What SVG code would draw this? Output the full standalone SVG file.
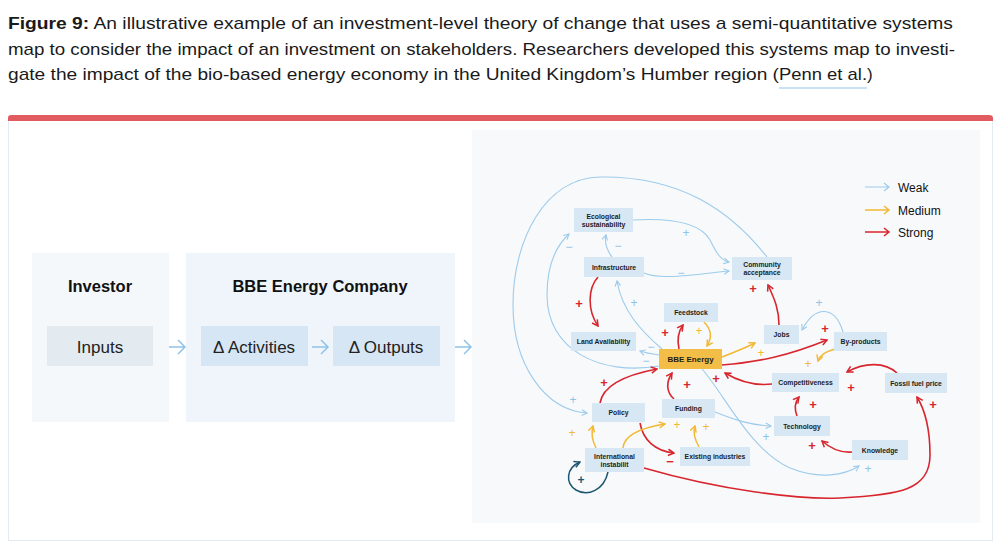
<svg xmlns="http://www.w3.org/2000/svg" width="1000" height="553" viewBox="0 0 1000 553">
<style>
.cap{font-family:"Liberation Sans",Arial,sans-serif;font-size:17px;fill:#1a1a1a}
.panelT{font-family:"Liberation Sans",Arial,sans-serif;font-size:16.5px;font-weight:700;fill:#111;text-anchor:middle}
.boxT{font-family:"Liberation Sans",Arial,sans-serif;font-size:17px;fill:#222;text-anchor:middle}
.n{fill:#d8e7f4}
.nt{font-family:"Liberation Sans",Arial,sans-serif;font-size:6.8px;font-weight:700;fill:#1c1c1c;text-anchor:middle}
.w{fill:none;stroke:#9dcbeb;stroke-width:1.1;marker-end:url(#aw)}
.m{fill:none;stroke:#f2b935;stroke-width:1.5;marker-end:url(#am)}
.s{fill:none;stroke:#d8262e;stroke-width:1.6;marker-end:url(#as)}
.t{fill:none;stroke:#1d5670;stroke-width:1.5;marker-end:url(#at)}
.lb{font-family:"Liberation Sans",Arial,sans-serif;text-anchor:middle;dominant-baseline:central}
.lw{fill:#8fc3e8;font-size:12px}
.lm{fill:#f2b935;font-size:12px}
.ls{fill:#d8262e;font-size:13px;font-weight:700}
.lt{fill:#1d5670;font-size:12px;font-weight:700}
.leg{font-family:"Liberation Sans",Arial,sans-serif;font-size:12px;fill:#111}
.flow{fill:none;stroke:#8fc3e8;stroke-width:1.5}
</style>
<defs>
<marker id="aw" markerUnits="userSpaceOnUse" viewBox="0 0 10 10" markerWidth="8" markerHeight="8" refX="8.5" refY="5" orient="auto"><path d="M2,1.5 L8.5,5 L2,8.5" fill="none" stroke="#9dcbeb" stroke-width="1.4"/></marker>
<marker id="am" markerUnits="userSpaceOnUse" viewBox="0 0 10 10" markerWidth="9" markerHeight="9" refX="8.5" refY="5" orient="auto"><path d="M2,1.5 L8.5,5 L2,8.5" fill="none" stroke="#f2b935" stroke-width="1.6"/></marker>
<marker id="as" markerUnits="userSpaceOnUse" viewBox="0 0 10 10" markerWidth="9" markerHeight="9" refX="8.5" refY="5" orient="auto"><path d="M2,1.5 L8.5,5 L2,8.5" fill="none" stroke="#d8262e" stroke-width="1.7"/></marker>
<marker id="at" markerUnits="userSpaceOnUse" viewBox="0 0 10 10" markerWidth="9" markerHeight="9" refX="8.5" refY="5" orient="auto"><path d="M2,1.5 L8.5,5 L2,8.5" fill="none" stroke="#1d5670" stroke-width="1.6"/></marker>
</defs>
<rect width="1000" height="553" fill="#ffffff"/>
<g id="caption">
<text class="cap" x="8" y="29" textLength="945" lengthAdjust="spacingAndGlyphs"><tspan font-weight="700">Figure 9:</tspan> An illustrative example of an investment-level theory of change that uses a semi-quantitative systems</text>
<text class="cap" x="8" y="55" textLength="947" lengthAdjust="spacingAndGlyphs">map to consider the impact of an investment on stakeholders. Researchers developed this systems map to investi-</text>
<text class="cap" x="8" y="80" textLength="771" lengthAdjust="spacingAndGlyphs">gate the impact of the bio-based energy economy in the United Kingdom’s Humber region (</text>
<text class="cap" x="779" y="80" textLength="88" lengthAdjust="spacingAndGlyphs">Penn et al.</text>
<text class="cap" x="867" y="80">)</text>
<line x1="779" y1="88" x2="867" y2="88" stroke="#8fc8ec" stroke-width="1.2"/>
</g>
<g id="card">
<rect x="8.5" y="118.5" width="984" height="422" fill="#ffffff" stroke="#e4ebf0"/>
<path d="M8,121 L8,118 Q8,115 11,115 L989,115 Q993,115 993,118 L993,121 Z" fill="#e05c61"/>
</g>
<g id="investor">
<rect x="32" y="253" width="137" height="169" fill="#f5f8fb"/>
<text class="panelT" x="100" y="292">Investor</text>
<rect x="47" y="326" width="106" height="40" fill="#e3ebf0"/>
<text class="boxT" x="100" y="353">Inputs</text>
</g>
<g id="company">
<rect x="186" y="253" width="269" height="169" fill="#eff5fa"/>
<text class="panelT" x="320" y="292">BBE Energy Company</text>
<rect x="201" y="326" width="107" height="40" fill="#d6e6f4"/>
<text class="boxT" x="254" y="353">Δ Activities</text>
<rect x="333" y="326" width="107" height="40" fill="#d6e6f4"/>
<text class="boxT" x="386" y="353">Δ Outputs</text>
</g>
<g id="flow-arrows">
<path class="flow" d="M169,347 H185 M178,340 L185,347 L178,354"/>
<path class="flow" d="M312,347 H328 M321,340 L328,347 L321,354"/>
<path class="flow" d="M455,347 H471 M464,340 L471,347 L464,354"/>
</g>
<rect id="map-bg" x="472" y="130" width="508" height="393" fill="#f7f9fb"/>
<g id="legend">
<path d="M865,187 H889 M884,183 L889,187 L884,191" fill="none" stroke="#9dcbeb" stroke-width="1.2"/>
<text class="leg" x="898" y="191.5">Weak</text>
<path d="M865,210 H889 M884,206 L889,210 L884,214" fill="none" stroke="#f2b935" stroke-width="1.5"/>
<text class="leg" x="898" y="214.5">Medium</text>
<path d="M865,232 H889 M884,228 L889,232 L884,236" fill="none" stroke="#d8262e" stroke-width="1.5"/>
<text class="leg" x="898" y="237">Strong</text>
</g>
<g id="connectors">
<path class="w" d="M767,257 C730,210 680,176 600,177 C545,178 513,240 513,305 C513,365 545,410 587,413"/>
<path class="w" d="M659,366 C600,376 547,350 547,295 C547,265 556,246 569,234"/>
<path class="w" d="M612,257 C607,250 604,243 606,235"/>
<path class="w" d="M633,220 C670,218 700,222 710,240 C716,252 720,260 729,262"/>
<path class="w" d="M644,273 C660,280 690,275 729,271"/>
<path class="w" d="M659,355 C652,354 646,353 640,351"/>
<path class="w" d="M662,349 C640,330 622,310 617,281"/>
<path class="w" d="M715,412 C735,420 750,425 771,426"/>
<path class="w" d="M702,369 C725,395 750,450 790,468 C820,480 845,475 859,466"/>
<path class="w" d="M843,332 C835,305 815,305 802,330"/>
<path class="s" d="M779,325 C779,310 775,300 768,285"/>
<path class="s" d="M598,277 C588,288 587,310 598,326"/>
<path class="s" d="M679,349 C677,340 678,332 683,325"/>
<path class="s" d="M722,365 C760,362 790,355 827,340"/>
<path class="s" d="M772,384 C755,386 740,382 725,373"/>
<path class="s" d="M897,373 C885,362 865,362 847,372"/>
<path class="s" d="M797,416 C794,408 795,402 799,397"/>
<path class="s" d="M852,452 C840,453 830,448 822,441"/>
<path class="s" d="M644,468 C720,490 800,500 840,498 C900,495 930,490 930,455 C930,430 925,410 917,397"/>
<path class="s" d="M600,403 C603,385 625,375 657,369"/>
<path class="s" d="M674,399 C666,392 666,382 672,373"/>
<path class="s" d="M640,423 C643,440 655,451 674,453"/>
<path class="m" d="M704,322 C712,330 712,338 707,346"/>
<path class="m" d="M722,357 C735,352 745,348 755,343"/>
<path class="m" d="M835,349 C825,352 820,355 818,361"/>
<path class="m" d="M596,448 C592,440 591,433 593,426"/>
<path class="m" d="M623,448 C624,435 640,428 665,424"/>
<path class="m" d="M699,447 C695,440 693,432 695,426"/>
<path class="t" d="M608,472 C604,490 588,497 576,490 C565,483 566,468 580,462"/>
</g>
<g id="signs">
<text class="lb lw" x="573" y="400">+</text>
<text class="lb lw" x="569" y="247">−</text>
<text class="lb lw" x="618" y="246">−</text>
<text class="lb lw" x="686" y="233">+</text>
<text class="lb lw" x="681" y="273">−</text>
<text class="lb lw" x="651" y="347">−</text>
<text class="lb lw" x="646" y="361">−</text>
<text class="lb lw" x="634" y="303">+</text>
<text class="lb lw" x="766" y="437">+</text>
<text class="lb lw" x="868" y="469">+</text>
<text class="lb lw" x="819" y="303">+</text>
<text class="lb ls" x="753" y="288">+</text>
<text class="lb ls" x="579" y="303">+</text>
<text class="lb ls" x="665" y="332">+</text>
<text class="lb ls" x="825" y="328">+</text>
<text class="lb ls" x="716" y="378">+</text>
<text class="lb ls" x="851" y="387">+</text>
<text class="lb ls" x="813" y="404">+</text>
<text class="lb ls" x="812" y="445">+</text>
<text class="lb ls" x="933" y="404">+</text>
<text class="lb ls" x="604" y="382">+</text>
<text class="lb ls" x="687" y="384">+</text>
<text class="lb ls" x="670" y="461">−</text>
<text class="lb lm" x="699" y="331">+</text>
<text class="lb lm" x="761" y="353">+</text>
<text class="lb lm" x="808" y="364">+</text>
<text class="lb lm" x="572" y="433">+</text>
<text class="lb lm" x="677" y="425">+</text>
<text class="lb lm" x="706" y="427">+</text>
<text class="lb lt" x="581" y="480">+</text>
</g>
<g id="node-ecological"><rect class="n" x="574" y="208" width="59" height="24"/><text class="nt" x="603.5" y="218.5">Ecological</text><text class="nt" x="603.5" y="227">sustainability</text></g>
<g id="node-infrastructure"><rect class="n" x="584" y="257" width="60" height="20"/><text class="nt" x="614" y="269.5">Infrastructure</text></g>
<g id="node-community"><rect class="n" x="732" y="257" width="60" height="23"/><text class="nt" x="762" y="266.5">Community</text><text class="nt" x="762" y="275">acceptance</text></g>
<g id="node-land"><rect class="n" x="571" y="332" width="65" height="19"/><text class="nt" x="603.5" y="344">Land Availability</text></g>
<g id="node-feedstock"><rect class="n" x="664" y="303" width="54" height="19"/><text class="nt" x="691" y="315">Feedstock</text></g>
<g id="node-bbe"><rect x="659" y="349" width="63" height="20" fill="#f3be47"/><text class="nt" x="690.5" y="362" style="font-size:8px">BBE Energy</text></g>
<g id="node-jobs"><rect class="n" x="764" y="325" width="35" height="19"/><text class="nt" x="781.5" y="337">Jobs</text></g>
<g id="node-byproducts"><rect class="n" x="834" y="332" width="53" height="19"/><text class="nt" x="860.5" y="344">By-products</text></g>
<g id="node-competitiveness"><rect class="n" x="772" y="373" width="67" height="19"/><text class="nt" x="805.5" y="385">Competitiveness</text></g>
<g id="node-fossil"><rect class="n" x="885" y="373" width="62" height="20"/><text class="nt" x="916" y="385.5">Fossil fuel price</text></g>
<g id="node-policy"><rect class="n" x="592" y="403" width="53" height="19"/><text class="nt" x="618.5" y="415">Policy</text></g>
<g id="node-funding"><rect class="n" x="662" y="399" width="53" height="19"/><text class="nt" x="688.5" y="411">Funding</text></g>
<g id="node-technology"><rect class="n" x="774" y="416" width="56" height="20"/><text class="nt" x="802" y="428.5">Technology</text></g>
<g id="node-international"><rect class="n" x="585" y="448" width="59" height="24"/><text class="nt" x="614.5" y="459">International</text><text class="nt" x="614.5" y="467">instabilit</text></g>
<g id="node-existing"><rect class="n" x="680" y="447" width="70" height="19"/><text class="nt" x="715" y="459">Existing industries</text></g>
<g id="node-knowledge"><rect class="n" x="852" y="440" width="56" height="20"/><text class="nt" x="880" y="452.5">Knowledge</text></g>
</svg>
